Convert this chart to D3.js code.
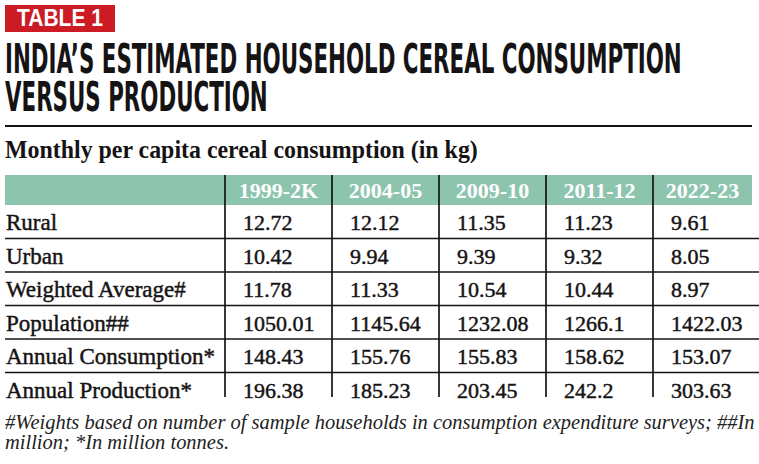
<!DOCTYPE html>
<html><head><meta charset="utf-8">
<script src="https://cdn.jsdelivr.net/npm/d3@7"></script>
<style>
html,body{margin:0;padding:0;background:#fff;}
svg{display:block;}
</style></head>
<body>
<svg id="chart" width="759" height="464"></svg>
<script>
// ---- data ----
const tag = "TABLE 1";
const titleLines = ["INDIA\u2019S ESTIMATED HOUSEHOLD CEREAL CONSUMPTION", "VERSUS PRODUCTION"];
const subtitle = "Monthly per capita cereal consumption (in kg)";
const periods = ["1999-2K", "2004-05", "2009-10", "2011-12", "2022-23"];
const rowLabels = ["Rural", "Urban", "Weighted Average#", "Population##", "Annual Consumption*", "Annual Production*"];
const rural = [12.72, 12.12, 11.35, 11.23, 9.61];
const urban = [10.42, 9.94, 9.39, 9.32, 8.05];
const weightedAvg = [11.78, 11.33, 10.54, 10.44, 8.97];
const population = [1050.01, 1145.64, 1232.08, 1266.1, 1422.03];
const annualConsumption = [148.43, 155.76, 155.83, 158.62, 153.07];
const annualProduction = [196.38, 185.23, 203.45, 242.2, 303.63];
const footnoteLines = [
  "#Weights based on number of sample households in consumption expenditure surveys; ##In",
  "million; *In million tonnes."
];
const seriesRows = [rural, urban, weightedAvg, population, annualConsumption, annualProduction];

// ---- layout ----
const svg = d3.select("#chart");
const ink = "#161314";
const serif = "'Liberation Serif','Times New Roman',serif";

// draw text at (x,y) and squeeze it horizontally to a target width
function squeezed(parent, x, y, w, setup) {
  const g = parent.append("g");
  const t = g.append("text").attr("x", 0).attr("y", 0);
  setup(t);
  const nat = t.node().getComputedTextLength();
  g.attr("transform", `translate(${x},${y}) scale(${w / nat},1)`);
  return t;
}

// tag
svg.append("rect").attr("x", 5).attr("y", 5).attr("width", 110).attr("height", 27).attr("fill", "#cc1b24");
squeezed(svg, 17, 26, 86, t => t
  .attr("font-family", "'Liberation Sans',Arial,sans-serif").attr("font-weight", "bold")
  .attr("font-size", 23.5).attr("fill", "#fff").text(tag));

// title: one text element, two lines, one common horizontal squeeze
{
  const g = svg.append("g");
  const t = g.append("text")
    .attr("font-family", "'Liberation Sans Narrow','DejaVu Sans Condensed',sans-serif")
    .attr("font-weight", "bold").attr("font-size", 40.5).attr("fill", ink);
  const spans = t.selectAll("tspan").data(titleLines).join("tspan")
    .attr("x", 0).attr("y", (d, i) => i * 38.5).text(d => d);
  const nat = spans.nodes()[0].getComputedTextLength();
  g.attr("transform", `translate(5,72.5) scale(${677 / nat},1)`);
}

// separator
svg.append("line").attr("x1", 5).attr("x2", 752).attr("y1", 126).attr("y2", 126)
  .attr("stroke", ink).attr("stroke-width", 2);

// subtitle
squeezed(svg, 5, 157.5, 473, t => t
  .attr("font-family", serif).attr("font-weight", "bold").attr("font-size", 24.5)
  .attr("fill", ink).text(subtitle));

// table scales
const x = d3.scaleBand().domain(periods).range([225, 760]).paddingInner(0).paddingOuter(0);
const y = d3.scaleBand().domain(rowLabels).range([205, 205 + 33.5 * rowLabels.length]);
const headerTop = 175, headerBottom = 205, tableBottom = 397, tableRight = 752;

// header band
svg.append("rect").attr("x", 5).attr("y", headerTop).attr("width", tableRight - 5)
  .attr("height", headerBottom - headerTop).attr("fill", "#8dc4ae");

svg.append("g").selectAll("text").data(periods).join("text")
  .attr("x", d => Math.min(x(d) + x.bandwidth() / 2, (x(d) + tableRight) / 2))
  .attr("y", 197.5).attr("text-anchor", "middle")
  .attr("font-family", serif).attr("font-weight", "bold").attr("font-size", 22)
  .attr("fill", "#fff").text(d => d);

// row lines
svg.append("g").selectAll("line").data(rowLabels.slice(1)).join("line")
  .attr("x1", 5).attr("x2", 759)
  .attr("y1", d => y(d)).attr("y2", d => y(d))
  .attr("stroke", ink).attr("stroke-width", 1.7);

// vertical lines
svg.append("g").selectAll("line").data(periods).join("line")
  .attr("x1", d => x(d)).attr("x2", d => x(d))
  .attr("y1", headerTop).attr("y2", tableBottom)
  .attr("stroke", ink).attr("stroke-width", 1.7);

// row labels
svg.append("g").selectAll("text").data(rowLabels).join("text")
  .attr("x", 6).attr("y", d => y(d) + 25)
  .attr("font-family", serif).attr("font-size", 23).attr("fill", ink)
  .attr("stroke", ink).attr("stroke-width", 0.45)
  .text(d => d);

// values
const cells = [];
seriesRows.forEach((vals, r) => vals.forEach((v, c) => cells.push({ row: rowLabels[r], col: periods[c], v })));
svg.append("g").selectAll("text").data(cells).join("text")
  .attr("x", d => x(d.col) + 18).attr("y", d => y(d.row) + 25)
  .attr("font-family", serif).attr("font-size", 22).attr("fill", ink)
  .attr("stroke", ink).attr("stroke-width", 0.45)
  .text(d => String(d.v));

// footnote
const fn = svg.append("g");
const f1 = fn.append("text").attr("x", 5).attr("y", 428.5)
  .attr("font-family", serif).attr("font-style", "italic").attr("font-size", 19)
  .attr("fill", "#222").text(footnoteLines[0]);
const w1 = f1.node().getComputedTextLength();
const fs = 19 * 750 / w1;
f1.attr("font-size", fs);
fn.append("text").attr("x", 5).attr("y", 448.5)
  .attr("font-family", serif).attr("font-style", "italic").attr("font-size", fs)
  .attr("fill", "#222").text(footnoteLines[1]);
</script>
</body></html>
